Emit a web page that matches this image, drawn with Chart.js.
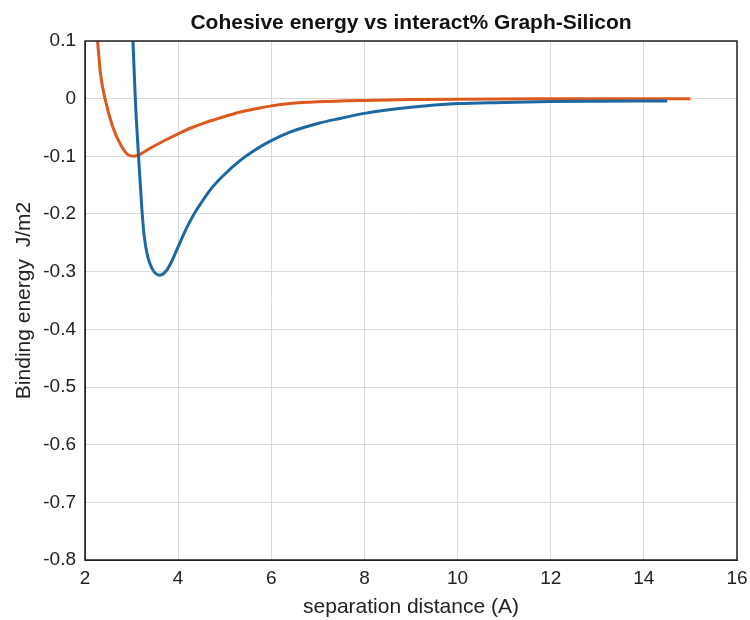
<!DOCTYPE html>
<html>
<head>
<meta charset="utf-8">
<script src="https://cdn.jsdelivr.net/npm/chart.js@4"></script>
<style>
  body { margin: 0; background: #fff; }
  #wrap { width: 750px; height: 620px; }
</style>
</head>
<body>
<div id="wrap"><canvas id="cv" width="750" height="620"></canvas></div>
<script>
// blue curve
const blueX = [3.03, 3.08, 3.15, 3.22, 3.27, 3.33, 3.45, 3.61, 3.75, 3.88, 4.0, 4.12, 4.24, 4.37, 4.5, 4.62, 4.74, 5.0, 5.32, 5.65, 6.02, 6.4, 7.0, 7.5, 8.0, 9.0, 10.0, 11.0, 12.0, 13.0, 14.5];
const blueY = [0.1, 0, -0.1, -0.19, -0.237, -0.268, -0.296, -0.306, -0.298, -0.279, -0.257, -0.235, -0.215, -0.196, -0.18, -0.166, -0.153, -0.131, -0.108, -0.089, -0.072, -0.058, -0.043, -0.034, -0.0255, -0.015, -0.0085, -0.0065, -0.005, -0.0045, -0.004];

// orange curve
const orangeX = [2.27, 2.33, 2.43, 2.6, 2.78, 2.92, 3.05, 3.17, 3.4, 3.7, 4.0, 4.3, 4.6, 5.0, 5.32, 5.7, 6.0, 6.4, 7.0, 8.0, 9.0, 10.0, 12.0, 15.0];
const orangeY = [0.1, 0.045, 0, -0.05, -0.082, -0.097, -0.1, -0.097, -0.086, -0.073, -0.061, -0.05, -0.041, -0.031, -0.0235, -0.017, -0.0125, -0.0085, -0.0055, -0.003, -0.0015, -0.0008, -0.0003, 0];

const xTicks = [2, 4, 6, 8, 10, 12, 14, 16];
const yTicks = [0.1, 0, -0.1, -0.2, -0.3, -0.4, -0.5, -0.6, -0.7, -0.8];

const titleText = "Cohesive energy vs interact% Graph-Silicon";

const toPoints = (xs, ys) => xs.map((x, i) => ({ x: x, y: ys[i] }));

const font = "'Liberation Sans', Arial, sans-serif";

// black box around the plot area + title centred over it
const boxPlugin = {
  id: "box",
  afterDraw(chart) {
    const a = chart.chartArea, ctx = chart.ctx;
    ctx.save();
    ctx.strokeStyle = "#222";
    ctx.lineWidth = 1.5;
    ctx.strokeRect(a.left, a.top, a.right - a.left, a.bottom - a.top);
    ctx.fillStyle = "#111";
    ctx.font = "bold 21px " + font;
    ctx.textAlign = "center";
    ctx.textBaseline = "alphabetic";
    ctx.fillText(titleText, (a.left + a.right) / 2, 29);
    ctx.restore();
  }
};

new Chart(document.getElementById("cv"), {
  type: "scatter",
  data: {
    datasets: [
      {
        data: toPoints(blueX, blueY),
        showLine: true,
        borderColor: "#1b68a3",
        borderWidth: 3,
        pointRadius: 0,
        cubicInterpolationMode: "monotone"
      },
      {
        data: toPoints(orangeX, orangeY),
        showLine: true,
        borderColor: "#dc5a1e",
        borderWidth: 3,
        pointRadius: 0,
        cubicInterpolationMode: "monotone"
      }
    ]
  },
  options: {
    responsive: false,
    animation: false,
    layout: { padding: { top: 41, right: 0, bottom: 0, left: 0 } },
    plugins: {
      legend: { display: false },
      tooltip: { enabled: false },
      title: { display: false }
    },
    scales: {
      x: {
        type: "linear",
        min: 2,
        max: 16,
        afterBuildTicks: s => { s.ticks = xTicks.map(v => ({ value: v })); },
        afterFit: s => { s.height = 60; s.paddingRight = 13; },
        grid: { color: "#dcd8d8", drawTicks: false },
        border: { color: "#222" },
        ticks: { color: "#222", padding: 7, font: { family: font, size: 19 } },
        title: {
          display: true,
          text: "separation distance (A)",
          color: "#222",
          padding: { top: 0, bottom: 0 },
          font: { family: font, size: 21 }
        }
      },
      y: {
        min: -0.8,
        max: 0.1,
        afterBuildTicks: s => { s.ticks = yTicks.map(v => ({ value: v })); },
        afterFit: s => { s.width = 85; },
        grid: { color: "#dcd8d8", drawTicks: false },
        border: { color: "#222" },
        ticks: {
          color: "#222",
          padding: 9,
          font: { family: font, size: 19 },
          callback: v => String(+v.toFixed(1))
        },
        title: {
          display: true,
          text: "Binding energy  J/m2",
          color: "#222",
          padding: { top: 12, bottom: 0 },
          font: { family: font, size: 21 }
        }
      }
    }
  },
  plugins: [boxPlugin]
});
</script>
</body>
</html>
